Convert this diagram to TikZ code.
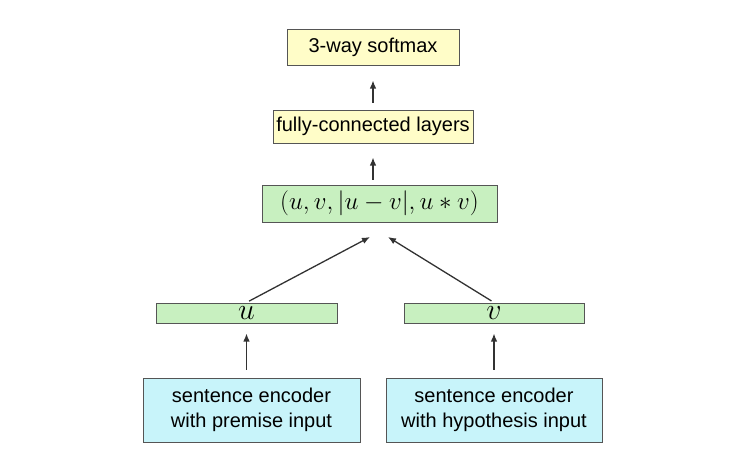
\RequirePackage{fix-cm}
\documentclass[tikz,border=0pt]{standalone}
\usepackage{fontspec}
\setmainfont{Liberation Sans}
\usetikzlibrary{arrows.meta,calc}
\definecolor{boxyellow}{RGB}{255,253,200}
\definecolor{boxgreen}{RGB}{200,240,192}
\definecolor{boxcyan}{RGB}{200,244,250}
\definecolor{edge}{RGB}{85,85,85}
\definecolor{arrowcol}{RGB}{50,50,50}
\begin{document}
\begin{tikzpicture}[x=1pt,y=-1pt,
  box/.style={draw=edge, line width=1pt, inner sep=0pt, align=center,
    font=\fontsize{20}{25}\selectfont},
  yelbox/.style={box, fill=boxyellow},
  grnbox/.style={box, fill=boxgreen},
  cyanbox/.style={box, fill=boxcyan},
  arr/.style={draw=arrowcol, line width=1.3pt, -{Latex[length=8pt,width=6.5pt]}}
]
\useasboundingbox (0,0) rectangle (740,453);
\node[yelbox, minimum width=172pt, minimum height=36pt] (soft) at (373,47) {3-way softmax};
\node[yelbox, minimum width=200pt, minimum height=33pt] (fc) at (373,126.5) {fully-connected layers};
\node[grnbox, minimum width=235pt, minimum height=37pt] (feat) at (379.5,203.5) {\fontsize{25}{30}\selectfont$(u, v, |u-v|, u*v)$};
\node[grnbox, minimum width=181pt, minimum height=20pt] (u) at (246.5,313) {\fontsize{30}{32}\selectfont\smash{\raisebox{-6.5pt}{$u$}}};
\node[grnbox, minimum width=180pt, minimum height=20pt] (v) at (494,313) {\fontsize{30}{32}\selectfont\smash{\raisebox{-6.5pt}{$v$}}};
\node[cyanbox, minimum width=217pt, minimum height=64pt] (enc1) at (251.5,410) {sentence encoder\\with premise input};
\node[cyanbox, minimum width=216pt, minimum height=64pt] (enc2) at (494,410) {sentence encoder\\with hypothesis input};
\coordinate (ta) at (370,237);
\coordinate (tb) at (388,237);
\draw[arr, shorten <=7pt, shorten >=15pt] (fc.north) -- (soft.south);
\draw[arr, shorten <=5pt, shorten >=14pt] (feat.north -| fc.north) -- (fc.south);
\draw[arr, shorten <=3pt] (u.north) -- (ta);
\draw[arr, shorten <=3pt] (v.north) -- (tb);
\draw[arr, shorten <=8pt, shorten >=10pt] (enc1.north -| u.north) -- (u.south);
\draw[arr, shorten <=8pt, shorten >=10pt] (enc2.north -| v.north) -- (v.south);
\end{tikzpicture}
\end{document}
